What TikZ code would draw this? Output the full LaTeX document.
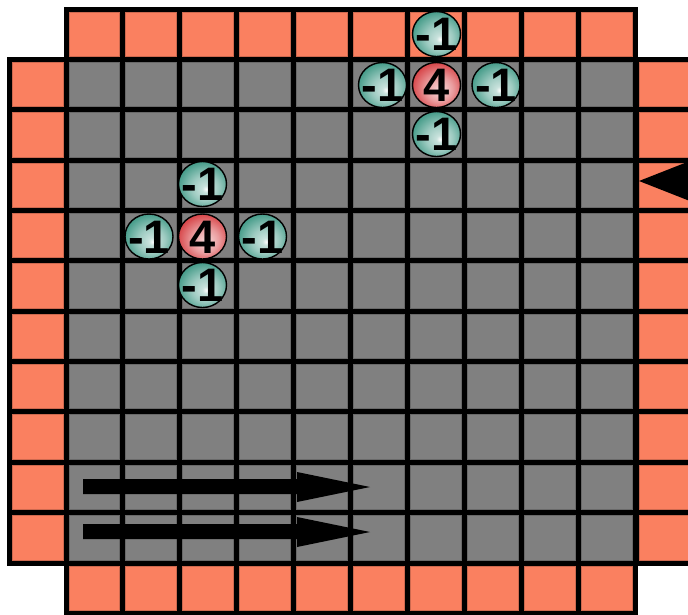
\documentclass[tikz,border=0pt]{standalone}
\usepackage{fontspec}
\setmainfont{Liberation Sans}
\usetikzlibrary{shapes.geometric}
\definecolor{cellorange}{RGB}{250,128,96}
\definecolor{cellgray}{RGB}{128,128,128}
\definecolor{tealc}{RGB}{36,138,116}
\definecolor{redc}{RGB}{208,36,40}
\pgfdeclareradialshading{tealball}{\pgfpoint{4bp}{-6bp}}{color(0bp)=(white); color(4bp)=(white!75!tealc); color(14bp)=(tealc!45!white); color(28bp)=(tealc!85!white); color(52bp)=(tealc!80!black)}
\pgfdeclareradialshading{redball}{\pgfpoint{4bp}{-6bp}}{color(0bp)=(white); color(4bp)=(white!75!redc); color(14bp)=(redc!45!white); color(28bp)=(redc!85!white); color(52bp)=(redc!80!black)}
\newcommand\cellpatch[5]{%
  \filldraw[fill=#5, draw=#5!82!black, line width=1pt] (#1+3,#2+3) rectangle (#3-3,#4-3);
  \draw[gridline] (#1,#2) rectangle (#3,#4);}
\newcommand\cval[1]{\makebox[0pt]{\raisebox{-0.358em}[0pt][0pt]{#1}}}
\begin{document}
\begin{tikzpicture}[x=1pt,y=-1pt,
  gridline/.style={draw=black, line width=5pt},
  ballnode/.style={ellipse, draw=black, line width=1.4pt, minimum width=48pt, minimum height=45pt, inner sep=0pt, font=\fontsize{47}{47}\selectfont\bfseries},
  tealnode/.style={ballnode, shading=tealball},
  rednode/.style={ballnode, shading=redball},
  bigarrow/.style={fill=black}]
\useasboundingbox (0,0) rectangle (688,614);
% main grid and top/bottom rows
\foreach \k in {0,...,9} {
  \pgfmathsetmacro\xa{66+56.95*\k}
  \pgfmathsetmacro\xb{\xa+56.95}
  \cellpatch{\xa}{9.5}{\xb}{59.5}{cellorange}
  \cellpatch{\xa}{563}{\xb}{613}{cellorange}
  \foreach \r in {0,...,9} {
    \pgfmathsetmacro\ya{59.5+50.35*\r}
    \pgfmathsetmacro\yb{\ya+50.35}
    \cellpatch{\xa}{\ya}{\xb}{\yb}{cellgray}
  }
}
% left and right columns
\foreach \r in {0,...,9} {
  \pgfmathsetmacro\ya{59.5+50.35*\r}
  \pgfmathsetmacro\yb{\ya+50.35}
  \cellpatch{9.5}{\ya}{66}{\yb}{cellorange}
  \cellpatch{636}{\ya}{693}{\yb}{cellorange}
}
% arrows
\fill[bigarrow] (83,479) -- (297,479) -- (297,472) -- (370,487) -- (297,502) -- (297,494) -- (83,494) -- cycle;
\fill[bigarrow] (83,524) -- (297,524) -- (297,517) -- (370,532) -- (297,547) -- (297,539) -- (83,539) -- cycle;
\fill[bigarrow] (639,181) -- (700,157) -- (700,205) -- cycle;
% top-right stencil
\node[rednode]  (rc) at (436.5,85)  {\cval{4}};
\node[tealnode] (rw) at (382.5,85)  {\cval{-1}};
\node[tealnode] (re) at (496,85)    {\cval{-1}};
\node[tealnode] (rn) at (436.5,34)  {\cval{-1}};
\node[tealnode] (rs) at (436.5,134) {\cval{-1}};
% left stencil
\node[rednode]  (lc) at (202.5,236.5) {\cval{4}};
\node[tealnode] (lw) at (149,236.5)   {\cval{-1}};
\node[tealnode] (le) at (262.5,236.5) {\cval{-1}};
\node[tealnode] (ln) at (202.5,184)   {\cval{-1}};
\node[tealnode] (ls) at (202.5,285)   {\cval{-1}};
\end{tikzpicture}
\end{document}
